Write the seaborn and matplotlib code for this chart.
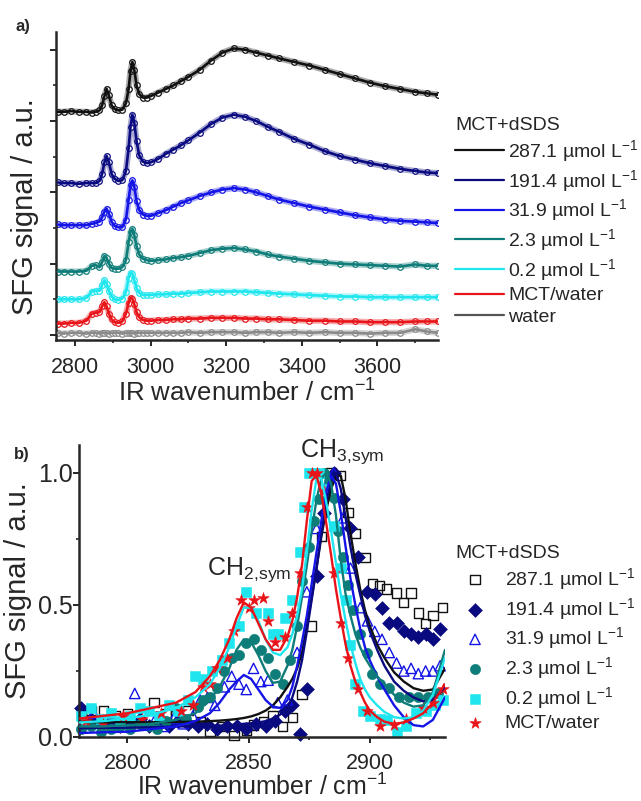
import matplotlib
matplotlib.use("Agg")
import matplotlib.pyplot as plt
import seaborn as sns
import pandas as pd
from matplotlib.ticker import MultipleLocator

# ---------------- Panel a data (offset spectra, arbitrary units) ----------------
wn_a = [2755, 2770, 2790, 2810, 2830, 2845, 2855, 2865, 2872, 2878, 2884, 2890, 2897, 2905,
        2915, 2925, 2935, 2942, 2947, 2952, 2957, 2963, 2970, 2980, 2990, 3000, 3020, 3040,
        3060, 3080, 3100, 3130, 3160, 3190, 3220, 3250, 3280, 3310, 3340, 3380, 3420, 3460,
        3500, 3540, 3580, 3620, 3660, 3700, 3730, 3760]

a_287 = [3.13, 3.13, 3.14, 3.13, 3.13, 3.12, 3.13, 3.15, 3.22, 3.35, 3.45, 3.36, 3.22, 3.17,
         3.15, 3.16, 3.25, 3.45, 3.70, 3.83, 3.72, 3.50, 3.38, 3.33, 3.33, 3.35, 3.40, 3.45,
         3.50, 3.56, 3.62, 3.72, 3.85, 3.96, 4.02, 4.00, 3.96, 3.92, 3.88, 3.83, 3.78, 3.72,
         3.66, 3.60, 3.54, 3.49, 3.45, 3.41, 3.39, 3.37]
a_191 = [2.14, 2.13, 2.13, 2.12, 2.13, 2.13, 2.13, 2.16, 2.26, 2.42, 2.51, 2.42, 2.26, 2.19,
         2.16, 2.17, 2.30, 2.62, 2.92, 3.09, 2.98, 2.72, 2.52, 2.43, 2.41, 2.42, 2.47, 2.54,
         2.60, 2.66, 2.73, 2.84, 2.96, 3.05, 3.09, 3.06, 3.00, 2.92, 2.85, 2.75, 2.67, 2.58,
         2.51, 2.46, 2.41, 2.37, 2.33, 2.30, 2.28, 2.27]
a_31 = [1.55, 1.54, 1.54, 1.54, 1.54, 1.56, 1.57, 1.59, 1.65, 1.73, 1.77, 1.70, 1.59, 1.53,
        1.51, 1.51, 1.62, 1.90, 2.10, 2.17, 2.08, 1.88, 1.75, 1.69, 1.67, 1.67, 1.71, 1.75,
        1.80, 1.85, 1.89, 1.95, 2.00, 2.04, 2.06, 2.04, 2.00, 1.95, 1.90, 1.85, 1.80, 1.76,
        1.72, 1.68, 1.65, 1.62, 1.60, 1.59, 1.58, 1.57]
a_2 = [0.89, 0.89, 0.89, 0.89, 0.90, 0.97, 0.98, 0.95, 1.02, 1.11, 1.08, 1.00, 0.94, 0.93,
       0.93, 0.95, 1.05, 1.30, 1.45, 1.49, 1.40, 1.25, 1.13, 1.07, 1.05, 1.04, 1.05, 1.06,
       1.08, 1.09, 1.11, 1.15, 1.19, 1.21, 1.22, 1.20, 1.17, 1.13, 1.10, 1.07, 1.04, 1.02,
       1.00, 0.99, 0.98, 0.97, 0.96, 0.99, 0.97, 0.97]
a_02 = [0.50, 0.50, 0.50, 0.50, 0.52, 0.61, 0.62, 0.62, 0.70, 0.77, 0.72, 0.62, 0.54, 0.50,
        0.49, 0.51, 0.60, 0.80, 0.87, 0.86, 0.77, 0.66, 0.59, 0.56, 0.56, 0.56, 0.57, 0.57,
        0.58, 0.58, 0.59, 0.60, 0.61, 0.61, 0.61, 0.61, 0.60, 0.59, 0.58, 0.57, 0.56, 0.55,
        0.54, 0.54, 0.53, 0.53, 0.53, 0.53, 0.53, 0.53]
a_mct = [0.16, 0.16, 0.17, 0.17, 0.20, 0.30, 0.31, 0.32, 0.40, 0.46, 0.40, 0.30, 0.22, 0.18,
         0.17, 0.19, 0.30, 0.45, 0.52, 0.51, 0.43, 0.32, 0.25, 0.21, 0.20, 0.20, 0.21, 0.21,
         0.22, 0.22, 0.23, 0.23, 0.24, 0.24, 0.24, 0.23, 0.23, 0.22, 0.22, 0.21, 0.20, 0.20,
         0.19, 0.19, 0.18, 0.18, 0.18, 0.19, 0.19, 0.19]
a_water = [0.03, 0.02, 0.03, 0.03, 0.02, 0.03, 0.03, 0.02, 0.03, 0.03, 0.03, 0.02, 0.03, 0.03,
           0.03, 0.02, 0.03, 0.03, 0.03, 0.03, 0.02, 0.03, 0.03, 0.03, 0.03, 0.03, 0.03, 0.03,
           0.03, 0.03, 0.04, 0.03, 0.04, 0.04, 0.04, 0.03, 0.04, 0.04, 0.03, 0.04, 0.03, 0.04,
           0.03, 0.03, 0.02, 0.03, 0.03, 0.08, 0.05, 0.03]

labels_a = ["287.1 µmol L$^{-1}$", "191.4 µmol L$^{-1}$", "31.9 µmol L$^{-1}$",
            "2.3 µmol L$^{-1}$", "0.2 µmol L$^{-1}$", "MCT/water", "water"]
colors_a = ["#111111", "#0a0a80", "#1414e6", "#0e7c78", "#1fe6ee", "#e8141a", "#8a8a8a"]
legend_colors_a = ["#111111", "#0a0a80", "#1414e6", "#0e7c78", "#1fe6ee", "#e8141a", "#555555"]

# ---------------- Panel b data (normalised) ----------------
wn_fit_b = [2780, 2790, 2800, 2810, 2820, 2828, 2834, 2838, 2842, 2845, 2848, 2851, 2854, 2857,
            2860, 2863, 2866, 2868, 2870, 2872, 2874, 2876, 2878, 2880, 2882, 2884, 2886, 2888,
            2890, 2892, 2894, 2896, 2898, 2900, 2903, 2906, 2910, 2914, 2918, 2922, 2926, 2931]
fit_287 = [0.057, 0.056, 0.056, 0.056, 0.057, 0.058, 0.060, 0.062, 0.065, 0.068, 0.072, 0.078,
           0.087, 0.10, 0.12, 0.15, 0.19, 0.22, 0.26, 0.32, 0.42, 0.53, 0.64, 0.76, 0.86, 0.94,
           0.99, 0.99, 0.90, 0.77, 0.66, 0.56, 0.48, 0.42, 0.35, 0.30, 0.245, 0.21, 0.185,
           0.175, 0.18, 0.26]
fit_191 = [0.033, 0.035, 0.035, 0.037, 0.040, 0.040, 0.042, 0.043, 0.045, 0.047, 0.050, 0.052,
           0.055, 0.060, 0.070, 0.085, 0.11, 0.15, 0.21, 0.29, 0.40, 0.52, 0.64, 0.77, 0.89,
           0.97, 1.00, 0.94, 0.83, 0.72, 0.62, 0.54, 0.46, 0.40, 0.33, 0.27, 0.21, 0.175, 0.15,
           0.135, 0.14, 0.19]
fit_31 = [0.015, 0.018, 0.020, 0.030, 0.040, 0.060, 0.090, 0.13, 0.18, 0.21, 0.235, 0.22, 0.18,
          0.14, 0.115, 0.11, 0.14, 0.19, 0.27, 0.36, 0.46, 0.58, 0.70, 0.82, 0.93, 0.99, 0.96,
          0.85, 0.72, 0.60, 0.50, 0.41, 0.34, 0.29, 0.23, 0.18, 0.12, 0.075, 0.045, 0.04,
          0.065, 0.15]
fit_2 = [0.040, 0.040, 0.045, 0.050, 0.065, 0.090, 0.14, 0.19, 0.26, 0.33, 0.37, 0.36, 0.31,
         0.25, 0.205, 0.21, 0.27, 0.33, 0.42, 0.53, 0.65, 0.78, 0.90, 0.98, 1.00, 0.96, 0.84,
         0.67, 0.54, 0.46, 0.39, 0.34, 0.30, 0.27, 0.23, 0.20, 0.16, 0.13, 0.115, 0.12, 0.17,
         0.33]
fit_02 = [0.055, 0.060, 0.070, 0.085, 0.11, 0.15, 0.20, 0.26, 0.34, 0.42, 0.49, 0.49, 0.44,
          0.37, 0.32, 0.31, 0.34, 0.39, 0.46, 0.56, 0.70, 0.86, 0.98, 0.98, 0.89, 0.78, 0.66,
          0.54, 0.44, 0.35, 0.28, 0.22, 0.18, 0.15, 0.12, 0.095, 0.075, 0.07, 0.075, 0.10,
          0.16, 0.30]
fit_mct = [0.07, 0.08, 0.09, 0.11, 0.13, 0.17, 0.23, 0.29, 0.37, 0.45, 0.51, 0.49, 0.43, 0.37,
           0.33, 0.33, 0.38, 0.44, 0.53, 0.65, 0.82, 0.97, 0.99, 0.92, 0.81, 0.69, 0.56, 0.45,
           0.35, 0.27, 0.21, 0.17, 0.13, 0.10, 0.075, 0.058, 0.05, 0.055, 0.07, 0.09, 0.13,
           0.20]

x_287 = [2781, 2785, 2790, 2795, 2800, 2805, 2811, 2816, 2820, 2825, 2830, 2834, 2839, 2844,
         2849, 2852, 2856, 2860, 2864, 2868, 2872, 2876, 2880, 2884, 2888, 2891, 2894, 2898,
         2901, 2904, 2907, 2911, 2914, 2917, 2920, 2923, 2926, 2930]
y_287 = [0.09, 0.10, 0.10, 0.08, 0.09, 0.06, 0.13, 0.09, 0.08, 0.10, 0.06, 0.02, 0.04, 0.005,
         0.025, 0.045, 0.057, 0.08, 0.04, 0.075, 0.16, 0.42, 0.76, 1.00, 0.99, 0.85, 0.77, 0.68,
         0.58, 0.575, 0.56, 0.545, 0.51, 0.545, 0.47, 0.43, 0.46, 0.49]
x_191 = [2781, 2785, 2789, 2793, 2797, 2801, 2805, 2809, 2813, 2817, 2821, 2825, 2829, 2833,
         2837, 2841, 2845, 2849, 2853, 2857, 2861, 2865, 2868, 2871, 2874, 2878, 2881, 2885,
         2889, 2892, 2895, 2899, 2902, 2905, 2908, 2911, 2914, 2917, 2920, 2923, 2926, 2929]
y_191 = [0.11, 0.07, 0.05, 0.06, 0.04, 0.05, 0.07, 0.04, 0.05, 0.04, 0.06, 0.05, 0.04, 0.05,
         0.03, 0.04, 0.04, 0.03, 0.05, 0.04, 0.06, 0.10, 0.12, 0.01, 0.18, 0.61, 0.85, 1.00,
         0.90, 0.79, 0.68, 0.55, 0.54, 0.49, 0.43, 0.43, 0.40, 0.39, 0.38, 0.39, 0.37, 0.41]
x_31 = [2782, 2786, 2790, 2795, 2799, 2803, 2807, 2811, 2815, 2819, 2823, 2827, 2830, 2833,
        2836, 2840, 2843, 2846, 2849, 2852, 2855, 2858, 2862, 2866, 2870, 2874, 2878, 2882,
        2885, 2889, 2892, 2896, 2899, 2902, 2905, 2908, 2911, 2914, 2917, 2920, 2923, 2926, 2929]
y_31 = [0.06, 0.09, 0.05, 0.04, 0.06, 0.165, 0.05, 0.06, 0.04, 0.07, 0.05, 0.08, 0.14, 0.15,
        0.12, 0.19, 0.23, 0.20, 0.18, 0.26, 0.21, 0.215, 0.13, 0.14, 0.32, 0.55, 0.79, 0.95,
        1.00, 0.83, 0.64, 0.49, 0.44, 0.40, 0.37, 0.32, 0.28, 0.25, 0.26, 0.24, 0.25, 0.25, 0.27]
x_2 = [2781, 2785, 2789, 2793, 2797, 2801, 2805, 2809, 2812, 2816, 2820, 2824, 2829, 2831,
       2834, 2837, 2840, 2843, 2846, 2849, 2852, 2855, 2858, 2861, 2864, 2867, 2870, 2872,
       2875, 2877, 2879, 2881, 2883, 2885, 2887, 2889, 2891, 2893, 2896, 2899, 2901, 2904,
       2908, 2912, 2916, 2920, 2924, 2928]
y_2 = [0.03, 0.04, 0.02, 0.03, 0.04, 0.03, 0.05, 0.04, 0.03, 0.06, 0.11, 0.07, 0.115, 0.14,
       0.15, 0.185, 0.25, 0.30, 0.31, 0.355, 0.37, 0.33, 0.30, 0.24, 0.20, 0.29, 0.42, 0.59,
       0.72, 0.82, 0.90, 1.00, 0.97, 0.905, 0.78, 0.68, 0.575, 0.48, 0.39, 0.32, 0.24, 0.20,
       0.185, 0.15, 0.15, 0.15, 0.15, 0.165]
x_02 = [2781, 2785, 2789, 2793, 2797, 2801, 2805, 2809, 2813, 2817, 2821, 2825, 2828, 2831,
        2835, 2839, 2842, 2846, 2849, 2853, 2858, 2860, 2862, 2865, 2868, 2871, 2873, 2875,
        2877, 2879, 2882, 2885, 2888, 2890, 2892, 2894, 2897, 2900, 2904, 2907, 2911, 2915,
        2919, 2923, 2927, 2930]
y_02 = [0.08, 0.11, 0.07, 0.09, 0.06, 0.08, 0.11, 0.10, 0.08, 0.12, 0.10, 0.14, 0.23, 0.22,
        0.25, 0.29, 0.355, 0.42, 0.55, 0.47, 0.47, 0.39, 0.39, 0.45, 0.52, 0.70, 0.87, 1.00,
        1.00, 1.00, 0.94, 0.80, 0.64, 0.52, 0.35, 0.20, 0.10, 0.08, 0.07, 0.065, 0.02, 0.04,
        0.09, 0.10, 0.12, 0.14]
x_mct = [2783, 2790, 2798, 2806, 2814, 2822, 2827, 2831, 2834, 2837, 2841, 2844, 2847, 2850,
         2852, 2856, 2858, 2861, 2865, 2868, 2871, 2874, 2876, 2878, 2881, 2885, 2888, 2891,
         2895, 2899, 2904, 2910, 2915, 2922, 2926, 2930]
y_mct = [0.06, 0.05, 0.08, 0.07, 0.09, 0.10, 0.12, 0.19, 0.20, 0.26, 0.30, 0.40, 0.52, 0.49,
         0.52, 0.525, 0.44, 0.36, 0.38, 0.47, 0.62, 0.87, 1.00, 1.00, 0.93, 0.62, 0.43, 0.30,
         0.18, 0.10, 0.04, 0.045, 0.07, 0.11, 0.13, 0.18]

labels_b = labels_a[:6]
colors_b = ["#111111", "#0a0a80", "#1414e6", "#0e7c78", "#1fe6ee", "#e8141a"]
markers_b = ["s", "D", "^", "o", "s", "*"]
sizes_b = [45, 50, 55, 55, 50, 75]
hollow_b = [True, False, True, False, False, False]

# ---------------- Style ----------------
sns.set_style("ticks")
plt.rcParams["font.family"] = ["Liberation Sans", "DejaVu Sans"]
plt.rcParams["mathtext.fontset"] = "custom"
plt.rcParams["mathtext.rm"] = "Liberation Sans"
plt.rcParams["mathtext.it"] = "Liberation Sans:italic"
plt.rcParams["mathtext.bf"] = "Liberation Sans:bold"
plt.rcParams["axes.linewidth"] = 1.8

W, H = 641, 801
fig = plt.figure(figsize=(W / 100, H / 100), dpi=100)
ax_a = fig.add_axes([56 / W, 1 - 340 / H, 382 / W, 308 / H])
ax_b = fig.add_axes([79 / W, 1 - 737 / H, 366 / W, 292 / H])

# ---------------- Panel a ----------------
series_a = [a_287, a_191, a_31, a_2, a_02, a_mct, a_water]
for vals, lab, col, lcol in zip(series_a, labels_a, colors_a, legend_colors_a):
    df = pd.DataFrame({"wn": wn_a, "sfg": vals})
    sns.lineplot(data=df, x="wn", y="sfg", ax=ax_a, color=col, linewidth=4.5, alpha=0.35,
                 zorder=1)
    sns.scatterplot(data=df, x="wn", y="sfg", ax=ax_a, marker="o", s=16, color=col,
                    facecolor="white", edgecolor=col, linewidth=0.9, legend=False, zorder=2)
    sns.lineplot(data=df, x="wn", y="sfg", ax=ax_a, color=col, linewidth=1.9, zorder=3)
    ax_a.plot([], [], color=lcol, linewidth=1.6, label=lab)

ax_a.set_xlim(2750, 3760)
ax_a.set_ylim(-0.07, 4.25)
ax_a.xaxis.set_major_locator(MultipleLocator(200))
ax_a.xaxis.set_minor_locator(MultipleLocator(100))
ax_a.yaxis.set_major_locator(MultipleLocator(1))
ax_a.yaxis.set_minor_locator(MultipleLocator(0.5))
ax_a.set_yticklabels([])
ax_a.tick_params(axis="both", which="major", direction="out", length=4.5, width=1.4)
ax_a.tick_params(axis="both", which="minor", direction="out", length=2.5, width=1.2)
ax_a.tick_params(axis="x", labelsize=15.5, pad=8)
ax_a.set_xlabel("IR wavenumber / cm$^{-1}$", fontsize=18.5, labelpad=1)
ax_a.set_ylabel("SFG signal / a.u.", fontsize=21, labelpad=4)
ax_a.yaxis.label.set_y(0.432)
sns.despine(ax=ax_a)

leg_a = ax_a.legend(loc="upper left", bbox_to_anchor=(455 / W, 1 - 117 / H),
                    bbox_transform=fig.transFigure, frameon=False, title="MCT+dSDS",
                    alignment="left", fontsize=14, title_fontsize=14, handlelength=2.5,
                    handletextpad=0.25, labelspacing=0.2, borderpad=0, borderaxespad=0)

# ---------------- Panel b ----------------
xs_b = [x_287, x_191, x_31, x_2, x_02, x_mct]
ys_b = [y_287, y_191, y_31, y_2, y_02, y_mct]
fits_b = [fit_287, fit_191, fit_31, fit_2, fit_02, fit_mct]
for xs, ys, lab, col, mk, sz, hol in zip(xs_b, ys_b, labels_b, colors_b,
                                          markers_b, sizes_b, hollow_b):
    dfp = pd.DataFrame({"wn": xs, "sfg": ys})
    if hol:
        sns.scatterplot(data=dfp, x="wn", y="sfg", ax=ax_b, marker=mk, s=sz, color=col,
                        facecolor="none", edgecolor=col, linewidth=1.0, label=lab,
                        legend=False, zorder=2, clip_on=False)
    else:
        sns.scatterplot(data=dfp, x="wn", y="sfg", ax=ax_b, marker=mk, s=sz, color=col,
                        edgecolor=col, linewidth=0.4, label=lab, legend=False, zorder=2,
                        clip_on=False)
for fit, col in zip(fits_b, colors_b):
    dff = pd.DataFrame({"wn": wn_fit_b, "sfg": fit})
    sns.lineplot(data=dff, x="wn", y="sfg", ax=ax_b, color=col, linewidth=1.7, zorder=3)

ax_b.set_xlim(2780, 2931)
ax_b.set_ylim(0.0, 1.106)
ax_b.xaxis.set_major_locator(MultipleLocator(50))
ax_b.xaxis.set_minor_locator(MultipleLocator(25))
ax_b.yaxis.set_minor_locator(MultipleLocator(0.25))
ax_b.set_yticks([0.0, 0.5, 1.0])
ax_b.set_yticklabels(["0.0", "0.5", "1.0"])
ax_b.tick_params(axis="both", which="major", direction="out", length=4.5, width=1.4)
ax_b.tick_params(axis="both", which="minor", direction="out", length=2.5, width=1.2)
ax_b.tick_params(axis="x", labelsize=15.5, pad=7)
ax_b.tick_params(axis="y", labelsize=18, pad=0)
ax_b.set_xlabel("IR wavenumber / cm$^{-1}$", fontsize=18, labelpad=0)
ax_b.set_ylabel("SFG signal / a.u.", fontsize=21, labelpad=4)
sns.despine(ax=ax_b)

ax_b.text(2871.2, 1.06, r"CH$_{3,\!\mathrm{sym}}$", fontsize=18, ha="left", va="baseline")
ax_b.text(2832.9, 0.614, r"CH$_{2,\!\mathrm{sym}}$", fontsize=18, ha="left", va="baseline")

leg_b = ax_b.legend(loc="upper left", bbox_to_anchor=(455 / W, 1 - 545 / H),
                    bbox_transform=fig.transFigure, frameon=False, title="MCT+dSDS",
                    alignment="left", fontsize=14, title_fontsize=14, handlelength=2.06,
                    handletextpad=0.5, labelspacing=0.2, borderpad=0, borderaxespad=0)

fig.text(15 / W, 1 - 26 / H, "a)", fontsize=12, fontweight="bold", va="center", ha="left")
fig.text(14 / W, 1 - 454 / H, "b)", fontsize=12, fontweight="bold", va="center", ha="left")

fig.savefig("out.png", dpi=100)
